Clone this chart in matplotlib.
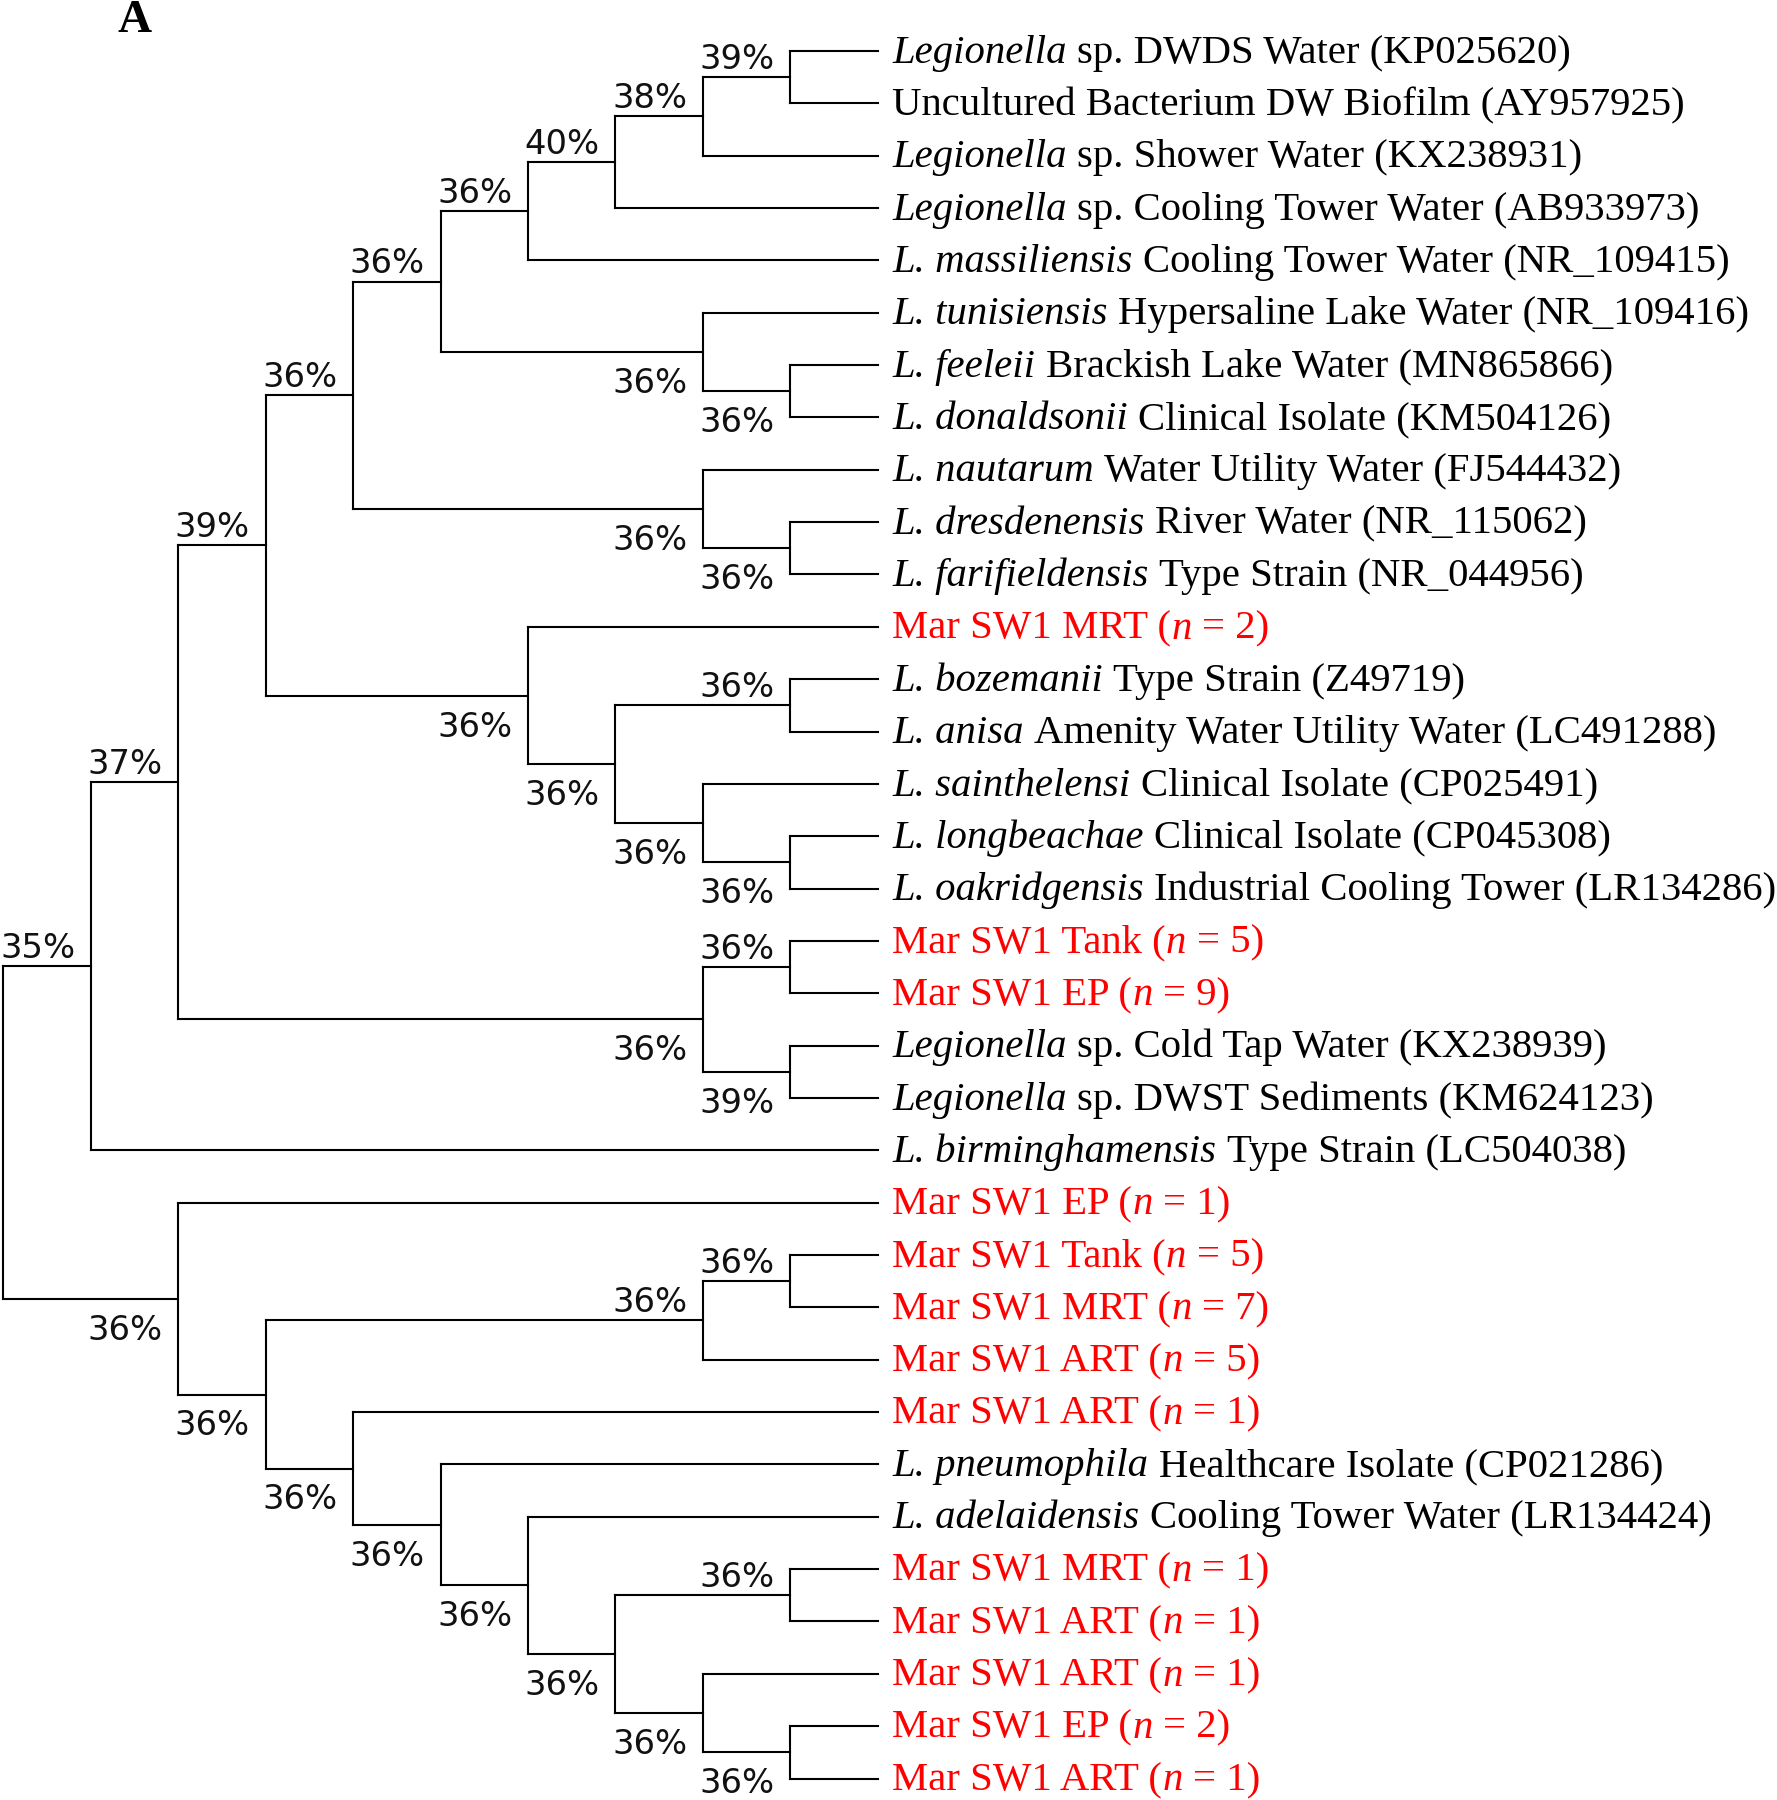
import matplotlib.pyplot as plt

plt.rcParams['font.family'] = 'Liberation Serif'

# leaf labels, top to bottom; *...* marks italic
leaves = [
    '*Legionella* sp. DWDS Water (KP025620)',
    'Uncultured Bacterium DW Biofilm (AY957925)',
    '*Legionella* sp. Shower Water (KX238931)',
    '*Legionella* sp. Cooling Tower Water (AB933973)',
    '*L. massiliensis* Cooling Tower Water (NR_109415)',
    '*L. tunisiensis* Hypersaline Lake Water (NR_109416)',
    '*L. feeleii* Brackish Lake Water (MN865866)',
    '*L. donaldsonii* Clinical Isolate (KM504126)',
    '*L. nautarum* Water Utility Water (FJ544432)',
    '*L. dresdenensis* River Water (NR_115062)',
    '*L. farifieldensis* Type Strain (NR_044956)',
    'Mar SW1 MRT (*n* = 2)',
    '*L. bozemanii* Type Strain (Z49719)',
    '*L. anisa* Amenity Water Utility Water (LC491288)',
    '*L. sainthelensi* Clinical Isolate (CP025491)',
    '*L. longbeachae* Clinical Isolate (CP045308)',
    '*L. oakridgensis* Industrial Cooling Tower (LR134286)',
    'Mar SW1 Tank (*n* = 5)',
    'Mar SW1 EP (*n* = 9)',
    '*Legionella* sp. Cold Tap Water (KX238939)',
    '*Legionella* sp. DWST Sediments (KM624123)',
    '*L. birminghamensis* Type Strain (LC504038)',
    'Mar SW1 EP (*n* = 1)',
    'Mar SW1 Tank (*n* = 5)',
    'Mar SW1 MRT (*n* = 7)',
    'Mar SW1 ART (*n* = 5)',
    'Mar SW1 ART (*n* = 1)',
    '*L. pneumophila* Healthcare Isolate (CP021286)',
    '*L. adelaidensis* Cooling Tower Water (LR134424)',
    'Mar SW1 MRT (*n* = 1)',
    'Mar SW1 ART (*n* = 1)',
    'Mar SW1 ART (*n* = 1)',
    'Mar SW1 EP (*n* = 2)',
    'Mar SW1 ART (*n* = 1)',
]

# tree topology: (bootstrap %, [children]); ints are leaf indices
tree = (None, [
    (35, [
        (37, [
            (39, [
                (36, [
                    (36, [
                        (36, [
                            (40, [
                                (38, [(39, [0, 1]), 2]),
                                3]),
                            4]),
                        (36, [5, (36, [6, 7])])]),
                    (36, [8, (36, [9, 10])])]),
                (36, [11, (36, [(36, [12, 13]),
                                (36, [14, (36, [15, 16])])])])]),
            (36, [(36, [17, 18]), (39, [19, 20])])]),
        21]),
    (36, [22, (36, [(36, [(36, [23, 24]), 25]),
                    (36, [26, (36, [27, (36, [28, (36, [(36, [29, 30]),
                                                        (36, [31, (36, [32, 33])])])])])])])]),
])

fig = plt.figure(figsize=(17.77, 18.0), dpi=100)
ax = fig.add_axes([0, 0, 1, 1])
ax.axis('off')
ax.set_xlim(-10.04, 10.29)
ax.set_ylim(33.41, -0.974)

lw = 1.5


def draw(node):
    # returns (x, y) of the node; x = -height so all leaves line up at 0
    if isinstance(node, int):
        return 0, node
    support, kids = node
    pos = [draw(k) for k in kids]
    x = min(p[0] for p in pos) - 1
    y = (pos[0][1] + pos[-1][1]) / 2
    ax.plot([x, x], [pos[0][1], pos[-1][1]], color='black', lw=lw,
            solid_capstyle='projecting')
    for k, (cx, cy) in zip(kids, pos):
        ax.plot([x, cx], [cy, cy], color='black', lw=lw,
                solid_capstyle='projecting')
    # bootstrap labels sit on the child's branch: above for upper, below for lower
    for j, (k, (cx, cy)) in enumerate(zip(kids, pos)):
        if isinstance(k, int) or k[0] is None:
            continue
        dy = 6.1 if j == 0 else -29.5
        ax.annotate(f'{k[0]}%', xy=(cx, cy), xytext=(-11.3, dy),
                    textcoords='offset points', ha='right', va='baseline',
                    fontsize=24.3, family='DejaVu Sans', color='#111111')
    return x, y


draw(tree)

fs = 29.35
renderer = fig.canvas.get_renderer()


def width_pts(s, style='normal'):
    t = fig.text(0, 0, s, fontsize=fs, style=style)
    w = t.get_window_extent(renderer).width * 72 / fig.dpi
    t.remove()
    return w


space = width_pts('x x') - width_pts('xx')

for i, name in enumerate(leaves):
    col = '#ff0000' if name.startswith('Mar') else 'black'
    off = 10.6
    for k, part in enumerate(name.split('*')):
        if not part:
            continue
        style = 'italic' if k % 2 else 'normal'
        if part.startswith(' '):
            off += space
            part = part.lstrip()
        t = ax.annotate(part, xy=(0, i), xytext=(off, -8.4), textcoords='offset points',
                        ha='left', va='baseline', fontsize=fs, color=col, style=style)
        off += t.get_window_extent(renderer).width * 72 / fig.dpi
        if part.endswith(' '):
            off += space

fig.text(118 / 1777, 1 - 32 / 1800, 'A', fontsize=34, fontweight='bold',
         ha='left', va='baseline')

fig.savefig('out.png', dpi=100)
